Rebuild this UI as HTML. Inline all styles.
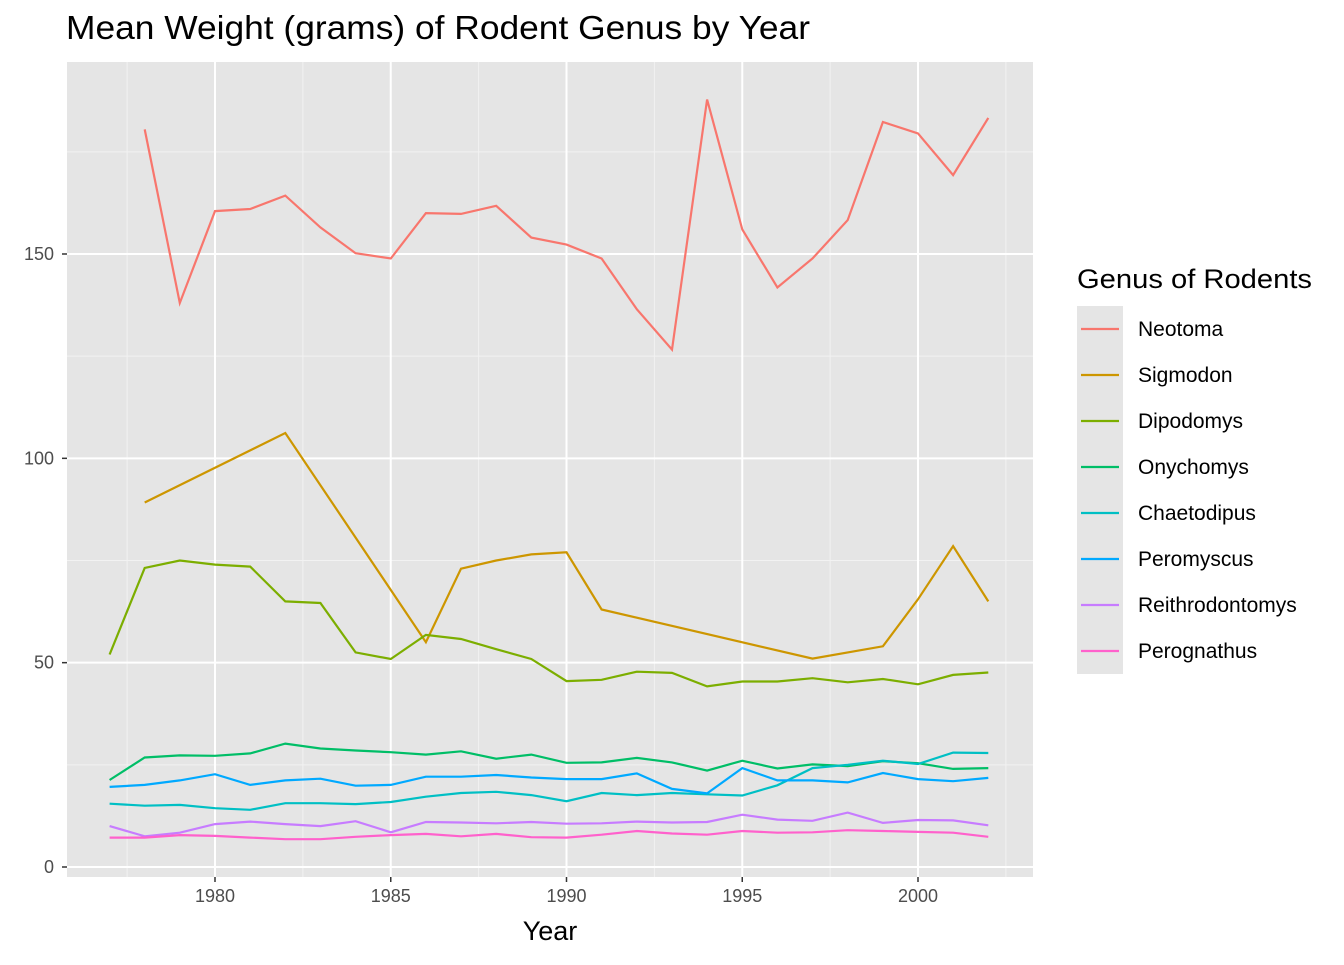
<!DOCTYPE html>
<html><head><meta charset="utf-8"><style>
body{margin:0;background:#fff;font-family:"Liberation Sans",Arial,sans-serif;}
</style></head><body>
<svg id="chart" width="1344" height="960" xmlns="http://www.w3.org/2000/svg" font-family="Liberation Sans, Arial, sans-serif">
<text x="66" y="39" font-size="33" fill="#000" textLength="744" lengthAdjust="spacingAndGlyphs">Mean Weight (grams) of Rodent Genus by Year</text>
<rect x="67" y="62" width="966" height="815" fill="#e5e5e5"/>
<g id="grid"></g><g id="series"></g><g id="axes"></g>
<text x="550" y="940" font-size="27" text-anchor="middle" fill="#000">Year</text>
<g id="legend">
<text x="1077" y="288" font-size="27" fill="#000" textLength="235" lengthAdjust="spacingAndGlyphs">Genus of Rodents</text>
</g>
</svg>
<script>
const years=[1977,1978,1979,1980,1981,1982,1983,1984,1985,1986,1987,1988,1989,1990,1991,1992,1993,1994,1995,1996,1997,1998,1999,2000,2001,2002];
const genera=["Neotoma","Sigmodon","Dipodomys","Onychomys","Chaetodipus","Peromyscus","Reithrodontomys","Perognathus"];
const colors=["#F8766D","#CD9600","#7CAE00","#00BE67","#00BFC4","#00A9FF","#C77CFF","#FF61CC"];
const neotoma=[null,180.5,138,160.5,161,164.3,156.5,150.2,148.9,160,159.8,161.8,154,152.3,148.9,136.5,126.6,187.8,156,141.8,148.9,158.3,182.3,179.5,169.3,183.3];
const sigmodon=[null,89.2,null,null,null,106.2,null,null,null,55,73,75,76.5,77,63,null,null,null,null,null,51,null,54,65.5,78.5,65];
const dipodomys=[52,73.2,75,74,73.5,65,64.6,52.5,50.9,56.8,55.8,53.3,50.9,45.5,45.8,47.8,47.5,44.2,45.4,45.4,46.2,45.2,46,44.7,47,47.6];
const onychomys=[21.3,26.8,27.3,27.2,27.8,30.2,29,28.5,28.1,27.5,28.3,26.5,27.5,25.5,25.6,26.7,25.6,23.6,26,24.1,25.1,24.7,25.9,25.4,24,24.2];
const chaetodipus=[15.5,15,15.2,14.4,14,15.6,15.6,15.4,15.9,17.2,18.1,18.4,17.6,16.1,18.1,17.6,18.1,17.8,17.5,20,24.2,25,26,25.2,28,27.9];
const peromyscus=[19.6,20.1,21.2,22.7,20.1,21.2,21.6,19.9,20.1,22.1,22.1,22.5,21.9,21.5,21.5,22.9,19.1,18,24.2,21.2,21.2,20.7,23,21.5,21,21.8];
const reithro=[10,7.5,8.4,10.5,11.1,10.5,10,11.2,8.5,11,10.9,10.7,11,10.6,10.7,11.1,10.9,11,12.8,11.6,11.3,13.3,10.8,11.5,11.4,10.2];
const perognathus=[7.2,7.2,7.8,7.6,7.2,6.8,6.8,7.4,7.8,8.1,7.5,8.1,7.3,7.2,7.9,8.8,8.2,7.9,8.8,8.4,8.5,9,8.8,8.6,8.4,7.4];
const allSeries=[neotoma,sigmodon,dipodomys,onychomys,chaetodipus,peromyscus,reithro,perognathus];
const xTicks=[1980,1985,1990,1995,2000];
const xMinor=[1977.5,1982.5,1987.5,1992.5,1997.5,2002.5];
const yTicks=[0,50,100,150];
const yMinor=[25,75,125,175];
const NS="http://www.w3.org/2000/svg";
const X0=67,X1=1033,Y0=62,Y1=877;
const xs=v=>215+(v-1980)*35.15;
const ys=v=>867-v*4.0867;
function mk(tag,attrs,parent){const e=document.createElementNS(NS,tag);for(const k in attrs)e.setAttribute(k,attrs[k]);parent.appendChild(e);return e;}
const grid=document.getElementById('grid'),axes=document.getElementById('axes'),ser=document.getElementById('series'),leg=document.getElementById('legend');
yMinor.forEach(v=>{const l=mk('line',{x1:X0,x2:X1,y1:ys(v),y2:ys(v),stroke:'#f2f2f2','stroke-width':1},grid);

});
xMinor.forEach(v=>{const l=mk('line',{x1:xs(v),x2:xs(v),y1:Y0,y2:Y1,stroke:'#f2f2f2','stroke-width':1},grid);

});
yTicks.forEach(v=>{const l=mk('line',{x1:X0,x2:X1,y1:ys(v),y2:ys(v),stroke:'#fff','stroke-width':2},grid);


const t=mk('text',{x:54,y:ys(v)+6,'font-size':18,'text-anchor':'end',fill:'#4d4d4d'},axes);t.textContent=v;


const k=mk('line',{x1:62,x2:67,y1:ys(v),y2:ys(v),stroke:'#333','stroke-width':1.5},axes);

});
xTicks.forEach(v=>{const l=mk('line',{x1:xs(v),x2:xs(v),y1:Y0,y2:Y1,stroke:'#fff','stroke-width':2},grid);


const t=mk('text',{x:xs(v),y:902,'font-size':18,'text-anchor':'middle',fill:'#4d4d4d'},axes);t.textContent=v;


const k=mk('line',{x1:xs(v),x2:xs(v),y1:877,y2:882,stroke:'#333','stroke-width':1.5},axes);

});
allSeries.forEach((s,i)=>{let pts=[];s.forEach((v,j)=>{if(v!==null)pts.push(xs(years[j]).toFixed(1)+','+ys(v).toFixed(1));});
const p=mk('polyline',{points:pts.join(' '),fill:'none',stroke:colors[i],'stroke-width':2.2},ser);


const y=306+i*46;
const bg=mk('rect',{x:1077,y:y,width:46,height:46,fill:'#e5e5e5'},leg);


const ll=mk('line',{x1:1081,x2:1119,y1:y+23,y2:y+23,stroke:colors[i],'stroke-width':2.2},leg);


const t=mk('text',{x:1138,y:y+30,'font-size':21,fill:'#000'},leg);t.textContent=genera[i];

});
</script>
</body></html>
